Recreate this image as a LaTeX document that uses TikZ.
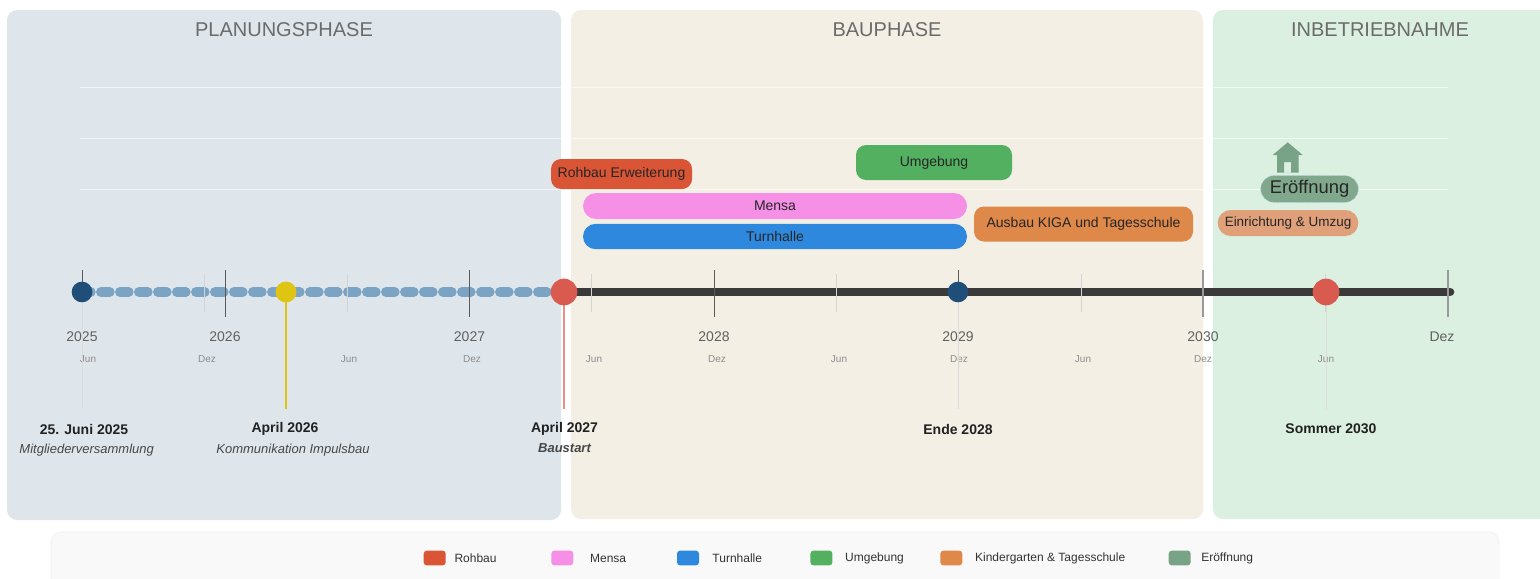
\documentclass[tikz,border=0pt]{standalone}
\usepackage{fontspec}
\setmainfont{Liberation Sans}
\usetikzlibrary{positioning}

\definecolor{planbg}{HTML}{DEE6EC}
\definecolor{baubg}{HTML}{F3EFE5}
\definecolor{betriebbg}{HTML}{DBF0E0}
\definecolor{rohbau}{HTML}{D95535}
\definecolor{mensa}{HTML}{F590E6}
\definecolor{turnhalle}{HTML}{2E88DE}
\definecolor{umgebung}{HTML}{52B060}
\definecolor{kiga}{HTML}{DE884A}
\definecolor{eroeffnung}{HTML}{79A386}
\definecolor{umzug}{HTML}{E0A07A}
\definecolor{navy}{HTML}{1F4E79}
\definecolor{gelb}{HTML}{E0C414}
\definecolor{rot}{HTML}{D95A4E}
\definecolor{hellrot}{HTML}{E8908A}
\definecolor{planblau}{HTML}{7BA3C4}
\definecolor{achse}{HTML}{3A3A3A}

\begin{document}
\begin{tikzpicture}[x=0.75pt,y=-0.75pt,
    phase/.style={rounded corners=7.5pt},
    phasetitle/.style={text=black!58,font=\fontsize{15}{18}\selectfont},
    gridline/.style={white,opacity=0.6,line width=0.75pt},
    jahrtick/.style={black!65,line width=0.75pt},
    endtick/.style={black!40,line width=1.2pt},
    halbtick/.style={black!17,line width=0.75pt},
    jahr/.style={text=black!62,font=\fontsize{10.5}{12}\selectfont},
    monat/.style={text=black!45,font=\fontsize{7.5}{9}\selectfont},
    planlinie/.style={planblau,line width=7.5pt,line cap=round,dash pattern=on 6.5pt off 7.75pt},
    baulinie/.style={achse,line width=6.5pt,line cap=round},
    punkt/.style={circle,inner sep=0pt,minimum size=15.5pt},
    grosspunkt/.style={circle,inner sep=0pt,minimum size=20pt},
    stiel/.style={black!14,line width=0.75pt},
    datum/.style={text=black!87,font=\bfseries\fontsize{10.5}{12}\selectfont},
    notiz/.style={text=black!72,font=\itshape\fontsize{9.75}{12}\selectfont},
    balken/.style={rounded corners=7.5pt,inner sep=0pt,text=black!85,font=\fontsize{10.5}{12}\selectfont},
    swatch/.style={rounded corners=2.25pt,inner sep=0pt,minimum width=16.5pt,minimum height=11pt},
    legtext/.style={inner sep=0pt,text=black!80,font=\fontsize{9}{11}\selectfont},
    node distance=15.75pt]
    \useasboundingbox (0,0) rectangle (1540,578);
    \fill[white] (0,0) rectangle (1540,578);

    % phases
    \fill[planbg,phase] (7,10) rectangle (561,520);
    \fill[baubg,phase] (571,10) rectangle (1203,519);
    \fill[betriebbg,phase] (1213,10) rectangle (1570,519);
    \node[phasetitle] (tplan) at (284,30) {PLANUNGSPHASE};
    \node[phasetitle] (tbau) at (887,30) {BAUPHASE};
    \node[phasetitle] (tbetrieb) at (1380,30) {INBETRIEBNAHME};
    \draw[gridline] (80,87) -- (1448,87);
    \draw[gridline] (80,138) -- (1448,138);
    \draw[gridline] (80,189) -- (1448,189);

    % legend
    \draw[black!6,fill=black!2.5,rounded corners=7.5pt] (51,532) rectangle (1499,600);
    \node[swatch,fill=rohbau] (l1) at (434.7,558) {};
    \node[legtext] (lt1) [right=6.2pt of l1] {Rohbau};
    \node[swatch,fill=mensa] (l2) at (562.3,558) {};
    \node[legtext] (lt2) [right=12.2pt of l2] {Mensa};
    \node[swatch,fill=turnhalle] (l3) at (688,558) {};
    \node[legtext] (lt3) [right=9.7pt of l3] {Turnhalle};
    \node[swatch,fill=umgebung] (l4) at (821.4,558) {};
    \node[legtext] (lt4) [right=9.2pt of l4] {Umgebung};
    \node[swatch,fill=kiga] (l5) at (951.3,558) {};
    \node[legtext] (lt5) [right=9.2pt of l5] {Kindergarten \& Tagesschule};
    \node[swatch,fill=eroeffnung] (l6) at (1179.7,558) {};
    \node[legtext] (lt6) [right=7.5pt of l6] {Eröffnung};

    % timeline
    \coordinate (p1) at (82,292);
    \coordinate (p2) at (286,292);
    \coordinate (p3) at (564,292);
    \coordinate (p4) at (958,292);
    \coordinate (p5) at (1326,292);
    \coordinate (ende) at (1450,292);
    \draw[planlinie] (p1) -- (p3);
    \draw[baulinie] (p3) -- (ende);

    \draw[jahrtick] (82,270) -- (82,317);
    \draw[jahrtick] (225,270) -- (225,317);
    \draw[jahrtick] (469,270) -- (469,317);
    \draw[jahrtick] (714,270) -- (714,317);
    \draw[jahrtick] (958,270) -- (958,317);
    \draw[endtick] (1203,270) -- (1203,317);
    \draw[endtick] (1448,270) -- (1448,317);
    \draw[halbtick] (204,274) -- (204,312);
    \draw[halbtick] (347,274) -- (347,312);
    \draw[halbtick] (591,274) -- (591,312);
    \draw[halbtick] (836,274) -- (836,312);
    \draw[halbtick] (1081,274) -- (1081,312);
    \draw[halbtick] (1325,274) -- (1325,312);

    \node[jahr] (j1) at (82,337) {2025};
    \node[jahr] (j2) at (225,337) {2026};
    \node[jahr] (j3) at (469.5,337) {2027};
    \node[jahr] (j4) at (714,337) {2028};
    \node[jahr] (j5) at (958,337) {2029};
    \node[jahr] (j6) at (1203,337) {2030};
    \node[jahr] (j7) at (1442,337) {Dez};
    \node[monat] (k1) at (88,359) {Jun};
    \node[monat] (k2) at (207,359) {Dez};
    \node[monat] (k3) at (349,359) {Jun};
    \node[monat] (k4) at (472,359) {Dez};
    \node[monat] (k5) at (594,359) {Jun};
    \node[monat] (k6) at (717,359) {Dez};
    \node[monat] (k7) at (839,359) {Jun};
    \node[monat] (k8) at (959,359) {Dez};
    \node[monat] (k9) at (1083,359) {Jun};
    \node[monat] (k10) at (1203,359) {Dez};
    \node[monat] (k11) at (1326,359) {Jun};

    % milestones
    \coordinate (s1) at (82,409);
    \coordinate (s2) at (286,409);
    \coordinate (s3) at (564,409);
    \coordinate (s4) at (958,409);
    \coordinate (s5) at (1326,409);
    \draw[stiel] (p1) -- (s1);
    \draw[gelb,line width=1.1pt] (p2) -- (s2);
    \draw[hellrot,line width=1.1pt] (p3) -- (s3);
    \draw[stiel] (p4) -- (s4);
    \draw[stiel] (p5) -- (s5);
    \node[punkt,fill=navy] (m1) at (p1) {};
    \node[punkt,fill=gelb,minimum size=15.75pt] (m2) at (p2) {};
    \node[grosspunkt,fill=rot] (m3) at (p3) {};
    \node[punkt,fill=navy] (m4) at (p4) {};
    \node[grosspunkt,fill=rot] (m5) at (p5) {};

    \node[datum] (d1) at (84,429) {25. Juni 2025};
    \node[notiz] (n1) [below of=d1,xshift=2pt] {Mitgliederversammlung};
    \node[datum] (d2) at (285,429) {April 2026};
    \node[notiz] (n2) [below of=d2,xshift=6pt] {Kommunikation Impulsbau};
    \node[datum] (d3) at (564.5,429) {April 2027};
    \node[notiz,font=\bfseries\itshape\fontsize{9.75}{12}\selectfont] (n3) [below of=d3,node distance=14.25pt] {Baustart};
    \node[datum] (d4) at (958,429) {Ende 2028};
    \node[datum] (d5) at (1331,429) {Sommer 2030};

    % work packages
    \node[balken,fill=rohbau,minimum width=105.75pt,minimum height=22.5pt] (rohbau) at (621.5,174) {Rohbau Erweiterung};
    \node[balken,fill=umgebung,minimum width=117pt,minimum height=26.25pt] (umgebung) at (934,162.5) {Umgebung};
    \node[balken,fill=mensa,rounded corners=9.75pt,minimum width=288pt,minimum height=19.5pt] (mensa) at (775,206) {Mensa};
    \node[balken,fill=turnhalle,rounded corners=9.5pt,minimum width=288pt,minimum height=19pt] (turnhalle) at (775,236.5) {Turnhalle};
    \node[balken,fill=kiga,minimum width=164.25pt,minimum height=26.25pt] (kiga) at (1083.5,224) {Ausbau KIGA und Tagesschule};
    \node[balken,fill=umzug,rounded corners=9.75pt,minimum width=105.5pt,minimum height=19.5pt,font=\fontsize{10.1}{12}\selectfont] (umzug) at (1288,223) {Einrichtung \& Umzug};
    \node[balken,fill=eroeffnung!95!white,draw=planblau!60,dash pattern=on 2.25pt off 1.5pt,rounded corners=10pt,minimum width=73.2pt,minimum height=20pt,font=\fontsize{13.8}{15}\selectfont] (eroeffnung) at (1309.5,189) {Eröffnung};

    % house
    \fill[eroeffnung] (1272.7,155) -- (1287.7,142.3) -- (1302.7,155) -- cycle;
    \fill[eroeffnung,even odd rule] (1277,154) rectangle (1298.7,172.7) (1284,162) rectangle (1291,172.7);
\end{tikzpicture}
\end{document}
